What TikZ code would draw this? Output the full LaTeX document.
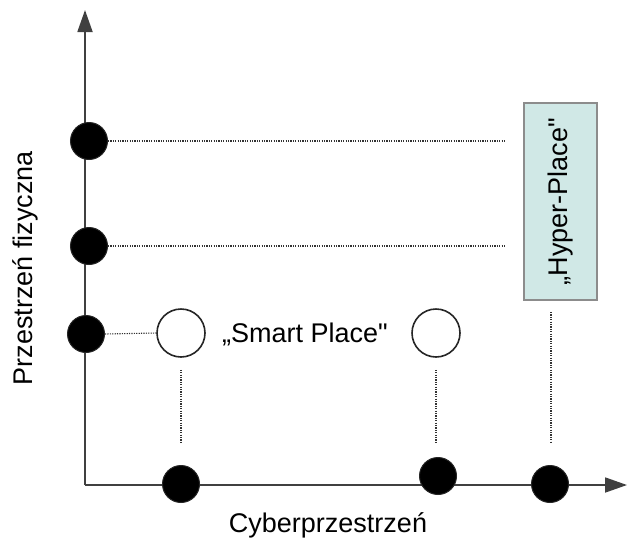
\documentclass[tikz,border=0pt]{standalone}
\usepackage{fontspec}
\setmainfont{Liberation Sans}[Ligatures=TeXOff]
\usetikzlibrary{arrows.meta}
\begin{document}
\begin{tikzpicture}[x=1pt,y=-1pt,
  bdot/.style={circle,fill=black,draw=black!85,line width=1pt,minimum width=35pt,minimum height=37pt,inner sep=0pt},
  odot/.style={circle,draw=black!85,fill=white,line width=1.6pt,minimum size=48pt,inner sep=0pt},
  axis/.style={line width=1.8pt,draw=black!75,-{Triangle[length=22pt,width=15pt]}},
  dotline/.style={line width=1.1pt,draw=black!80,dash pattern=on 1.2pt off 1.2pt},
  lbl/.style={font=\fontsize{27}{30}\selectfont,inner sep=0pt}]
\useasboundingbox (0,0) rectangle (628,541);
% axes
\coordinate (O) at (85,485);
\coordinate (ytip) at (85,10);
\coordinate (xtip) at (627,485);
\draw[axis] (O) -- (ytip);
\draw[axis] (O) -- (xtip);
% y-axis dots
\node[bdot] (y1) at (89,141) {};
\node[bdot] (y2) at (89,246) {};
\node[bdot] (y3) at (86,334) {};
% x-axis dots
\node[bdot] (x1) at (181,484) {};
\node[bdot] (x2) at (438,476) {};
\node[bdot] (x3) at (550,484) {};
% open circles
\node[odot] (c1) at (181,333) {};
\node[odot] (c2) at (436,333) {};
\node[lbl] (sp) at (305,334) {„Smart Place"};
% hyper place box
\node[draw=black!45,fill={rgb,255:red,208;green,232;blue,230},line width=1.3pt,
  minimum width=73pt,minimum height=197pt,inner sep=0pt] (hp) at (560.5,201.5) {};
\node[lbl,rotate=90] (hpt) at (hp.center) {„Hyper-Place"};
% dotted connectors
\coordinate (e1) at (505,141);
\coordinate (e2) at (505,246);
\draw[dotline] (y1.east) -- (e1);
\draw[dotline] (y2.east) -- (e2);
\draw[dotline] (y3.east) -- (c1.west);
\coordinate (v1) at (181,442);
\coordinate (v2) at (436,442);
\coordinate (v3t) at (551,312);
\coordinate (v3) at (551,442);
\draw[dotline] ([yshift=-12pt]c1.south) -- (v1);
\draw[dotline] ([yshift=-12pt]c2.south) -- (v2);
\draw[dotline] (v3t) -- (v3);
% axis labels
\node[lbl] (xl) at (328,525) {Cyberprzestrzeń};
\node[lbl,rotate=90] (yl) at (25,268) {Przestrzeń fizyczna};
\end{tikzpicture}
\end{document}
